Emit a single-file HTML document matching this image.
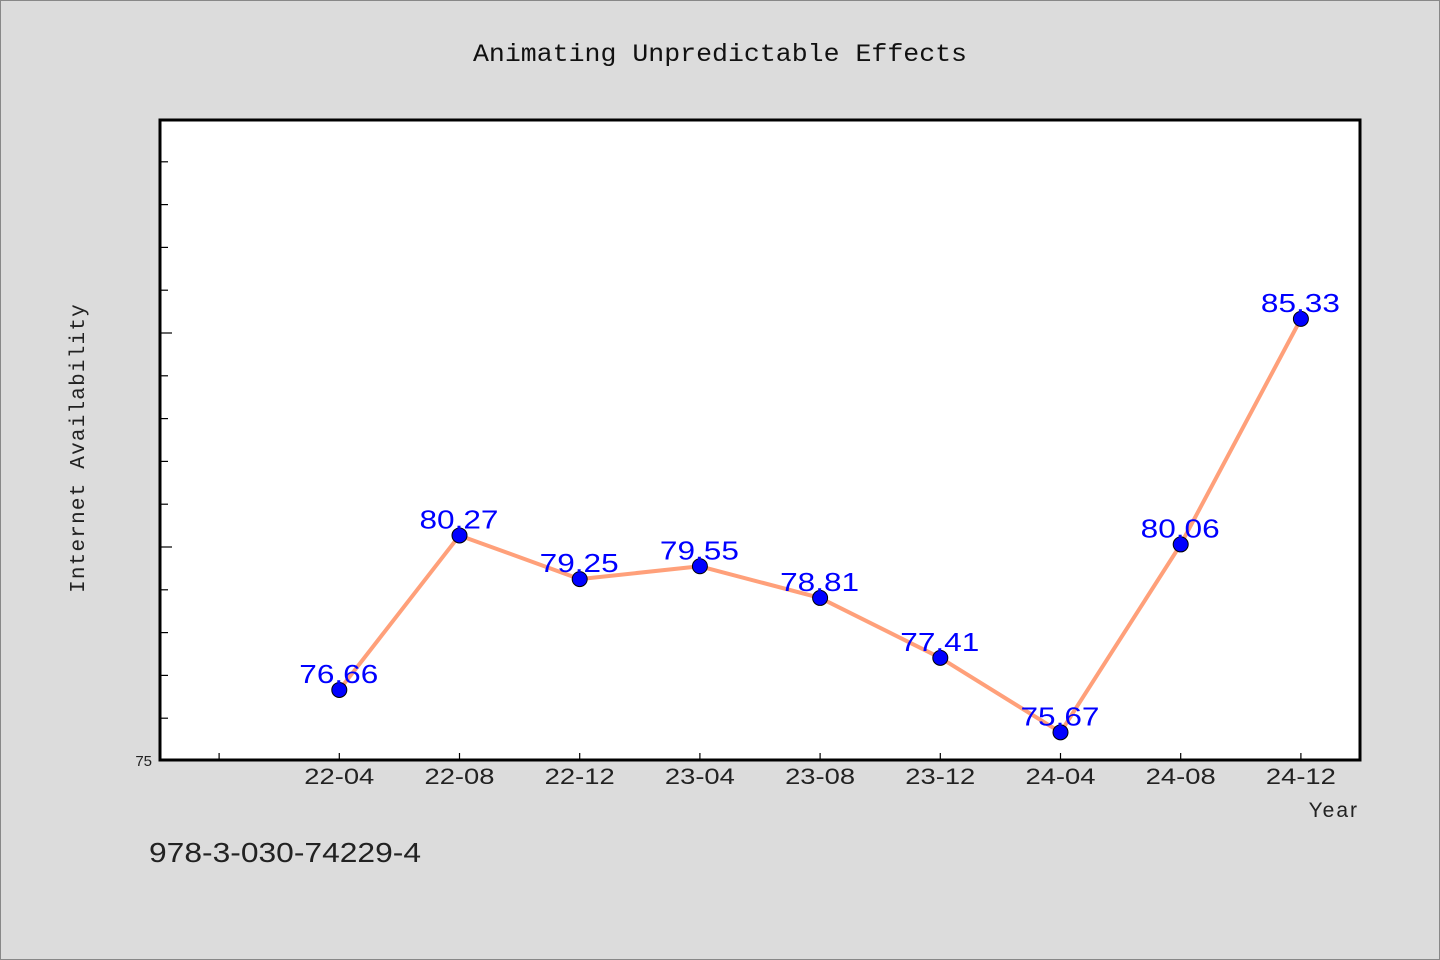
<!DOCTYPE html>
<html><head><meta charset="utf-8"><style>
html,body{margin:0;padding:0;background:#dcdcdc;}
svg{display:block;font-family:"Liberation Sans","WenQuanYi Zen Hei",sans-serif;}
</style></head><body>
<svg id="chart" width="1440" height="960" viewBox="0 0 1440 960" xmlns="http://www.w3.org/2000/svg">
<rect x="0.5" y="0.5" width="1439" height="959" fill="#dcdcdc" stroke="#888"/>
<text x="473" y="61" textLength="494" lengthAdjust="spacingAndGlyphs" font-size="25" fill="#111" font-family="'Liberation Mono','WenQuanYi Zen Hei',monospace">Animating Unpredictable Effects</text>
<rect x="160" y="120" width="1200" height="640" fill="#fff"/>
<g id="ticks"></g>
<g id="series"></g>
<rect x="160" y="120" width="1200" height="640" fill="none" stroke="#000" stroke-width="3"/>
<text x="152" y="766" text-anchor="end" font-size="15" fill="#222">75</text>
<text transform="translate(84,448) rotate(-90)" text-anchor="middle" font-size="21" letter-spacing="1.2" fill="#222" font-family="'Liberation Mono','WenQuanYi Zen Hei',monospace">Internet Availability</text>
<text x="1359" y="817" text-anchor="end" font-size="21" letter-spacing="2" fill="#222">Year</text>
<text x="149" y="862" font-size="28" textLength="272" lengthAdjust="spacingAndGlyphs" fill="#222">978-3-030-74229-4</text>
</svg>
<script>
const categories = ["", "22-04","22-08","22-12","23-04","23-08","23-12","24-04","24-08","24-12"];
const values = [null, 76.66, 80.27, 79.25, 79.55, 78.81, 77.41, 75.67, 80.06, 85.33];
const yMin = 75, yMax = 90;
const yTickValues = [75,76,77,78,79,80,81,82,83,84,85,86,87,88,89,90];

const NS = "http://www.w3.org/2000/svg";
const L = 159, R = 1361, T = 119, B = 761;
const band = (R - L) / categories.length;
function xPos(i){ return L + band * (i + 0.5); }
function yPos(v){ return B - (v - yMin) / (yMax - yMin) * (B - T); }
function mk(tag, attrs, parent){ const e = document.createElementNS(NS, tag); for (const k in attrs) e.setAttribute(k, attrs[k]); parent.appendChild(e); return e; }

const ticks = document.getElementById('ticks');
yTickValues.forEach(v => {
  if (v === yMin || v === yMax) return;
  const len = (v % 5 === 0) ? 12 : 8;
  const t = mk('line', {x1: 160, x2: 160 + len, y1: yPos(v), y2: yPos(v), stroke: '#000', 'stroke-width': 1.2}, ticks);
  
  
});
categories.forEach((c, i) => {
  const x = xPos(i);
  const t = mk('line', {x1: x, x2: x, y1: 760, y2: 753, stroke: '#000', 'stroke-width': 1.2}, ticks);
  
  
  if (c) {
    const lb = mk('text', {x: x - 35, y: 784, 'font-size': 22, textLength: 70, lengthAdjust: 'spacingAndGlyphs', fill: '#222'}, ticks);
    lb.textContent = c;
    
    
  }
});

const series = document.getElementById('series');
const pts = [];
values.forEach((v, i) => { if (v !== null) pts.push([xPos(i), yPos(v), v]); });
const line = mk('polyline', {points: pts.map(p => p[0] + ',' + p[1]).join(' '), fill: 'none', stroke: '#ffa07a', 'stroke-width': 4, 'stroke-linejoin': 'round'}, series);


pts.forEach(p => {
  const c = mk('circle', {cx: p[0], cy: p[1], r: 7.5, fill: '#0000ff', stroke: '#000', 'stroke-width': 1}, series);
  
  
  const t = mk('text', {x: p[0] - 40, y: p[1] - 7, 'font-size': 26, textLength: 79, lengthAdjust: 'spacingAndGlyphs', fill: '#0000ff'}, series);
  t.textContent = p[2].toFixed(2);
  
  
});
</script>
</body></html>
